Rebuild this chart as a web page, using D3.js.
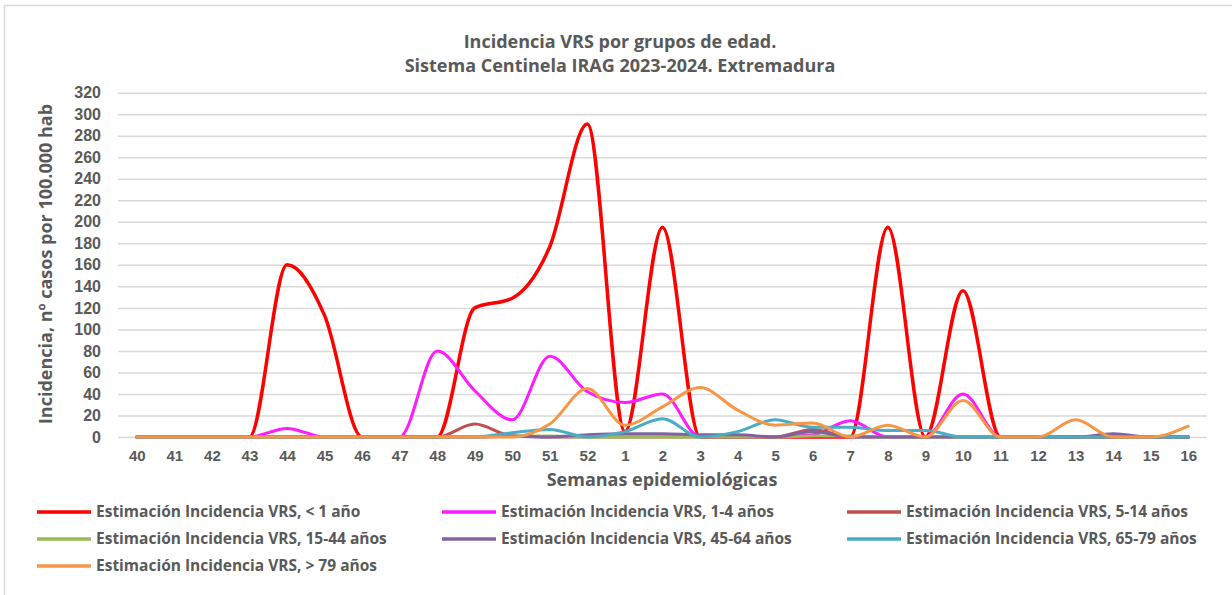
<!DOCTYPE html>
<html>
<head>
<meta charset="utf-8">
<script src="https://cdn.jsdelivr.net/npm/d3@7"></script>
<style>
  body { margin: 0; background: #fff; }
  svg { display: block; font-family: "Open Sans", Lato, sans-serif; font-weight: 700; }
</style>
</head>
<body>
<svg id="chart" width="1232" height="595"></svg>
<script>
var weeks = ['40','41','42','43','44','45','46','47','48','49','50','51','52',
             '1','2','3','4','5','6','7','8','9','10','11','12','13','14','15','16']

var yTicks = d3.range(0, 321, 20)

// estimación incidencia por grupo de edad (casos por 100.000 hab)
var menor1   = [0,0,0,0,160,113,0,0,0,120,129,177,291,5,195,0,0,0,0,0,195,0,136,0,0,0,0,0,0]
var de1a4    = [0,0,0,0,8,0,0,0,80,43,16,75,42,32,40,0,0,0,2,15,0,0,40,0,0,0,0,0,0]
var de5a14   = [0,0,0,0,0,0,0,0,0,12,1,0,0,0,0,0,0,0,7,0,0,0,0,0,0,0,0,0,0]
var de15a44  = [0,0,0,0,0,0,0,0,0,0,1,1,0,0,0,0,0,0,1,1,0,0,0,0,0,0,0,0,0]
var de45a64  = [0,0,0,0,0,0,0,0,0,0,1,0,2,3,3,2,2,0,5,0,0,0,0,0,0,0,3,0,0]
var de65a79  = [0,0,0,0,0,0,0,0,0,0,4,7,0,5,17,0,5,16,9,9,6,6,0,0,0,0,0,0,0]
var mayor79  = [0,0,0,0,0,0,0,0,0,0,0,12,45,11,28,46,25,11,13,0,11,0,34,0,0,16,0,0,10]

var seriesNames = ['Estimación Incidencia VRS, < 1 año',
                   'Estimación Incidencia VRS, 1-4 años',
                   'Estimación Incidencia VRS, 5-14 años',
                   'Estimación Incidencia VRS, 15-44 años',
                   'Estimación Incidencia VRS, 45-64 años',
                   'Estimación Incidencia VRS, 65-79 años',
                   'Estimación Incidencia VRS, > 79 años']
var seriesValues = [menor1, de1a4, de5a14, de15a44, de45a64, de65a79, mayor79]
var seriesColors = ['#ff0000', '#ff1aff', '#c0504d', '#9bbb59', '#8064a2', '#4bacc6', '#f79646']

var svg = d3.select('#chart')
var grey = '#595959'

// marco del gráfico
svg.append('rect')
   .attr('x', 4.5).attr('y', 5.5)
   .attr('width', 1240).attr('height', 600)
   .attr('fill', 'none')
   .attr('stroke', '#d9d9d9')
   .attr('stroke-width', 1.5)

var x = d3.scalePoint().domain(weeks).range([118, 1207]).padding(0.5)
var y = d3.scaleLinear().domain([0, 320]).range([437, 92.7])

// gridlines + y labels
var yAxis = svg.append('g').attr('transform', 'translate(118,0)')
    .call(d3.axisLeft(y).tickValues(yTicks).tickSize(-(1207 - 118)).tickPadding(17))
yAxis.select('.domain').remove()
yAxis.selectAll('.tick line').attr('stroke', '#d9d9d9').attr('stroke-width', 1.5)
yAxis.selectAll('.tick text')
     .attr('fill', grey).style('font-size', '16px').style('font-family', null)
     .style('font-weight', 700)

var xAxis = svg.append('g').attr('transform', 'translate(0,437)')
    .call(d3.axisBottom(x).tickSize(0).tickPadding(13))
xAxis.select('.domain').remove()
xAxis.selectAll('.tick text')
     .attr('fill', grey).style('font-size', '15px').style('font-family', null)
     .style('font-weight', 700)

// líneas
var line = d3.line()
    .x(function (d, i) { return x(weeks[i]) })
    .y(function (d) { return y(d) })
    .curve(d3.curveMonotoneX)

svg.append('g').selectAll('path')
   .data(seriesValues)
   .join('path')
   .attr('d', line)
   .attr('fill', 'none')
   .attr('stroke', function (d, i) { return seriesColors[i] })
   .attr('stroke-width', function (d, i) { return i === 0 ? 3.5 : 3 })
   .attr('stroke-linejoin', 'round')
   .attr('stroke-linecap', 'round')

// títulos
var title = svg.append('text')
   .attr('x', 620).attr('y', 48)
   .attr('text-anchor', 'middle')
   .attr('fill', grey)
   .style('font-size', '18px')
title.append('tspan').attr('x', 620).text('Incidencia VRS por grupos de edad.')
title.append('tspan').attr('x', 620).attr('dy', 24).text('Sistema Centinela IRAG 2023-2024. Extremadura')

svg.append('text')
   .attr('x', 662).attr('y', 486)
   .attr('text-anchor', 'middle')
   .attr('fill', grey)
   .style('font-size', '18px')
   .text('Semanas epidemiológicas')

svg.append('text')
   .attr('transform', 'translate(52,264) rotate(-90)')
   .attr('text-anchor', 'middle')
   .attr('fill', grey)
   .style('font-size', '18px')
   .text('Incidencia, nº casos por 100.000 hab')

// leyenda
var legendCols = [37, 442, 847]
var legendRows = [512, 539, 566]

var legend = svg.append('g').selectAll('g')
   .data(seriesNames)
   .join('g')
   .attr('transform', function (d, i) {
     return 'translate(' + legendCols[i % 3] + ',' + legendRows[Math.floor(i / 3)] + ')'
   })

legend.append('line')
   .attr('x1', 0).attr('x2', 54)
   .attr('stroke', function (d, i) { return seriesColors[i] })
   .attr('stroke-width', 3.5)

legend.append('text')
   .attr('x', 59).attr('dy', '0.35em')
   .attr('fill', grey)
   .style('font-size', '15.5px')
   .text(function (d) { return d })
</script>
</body>
</html>
